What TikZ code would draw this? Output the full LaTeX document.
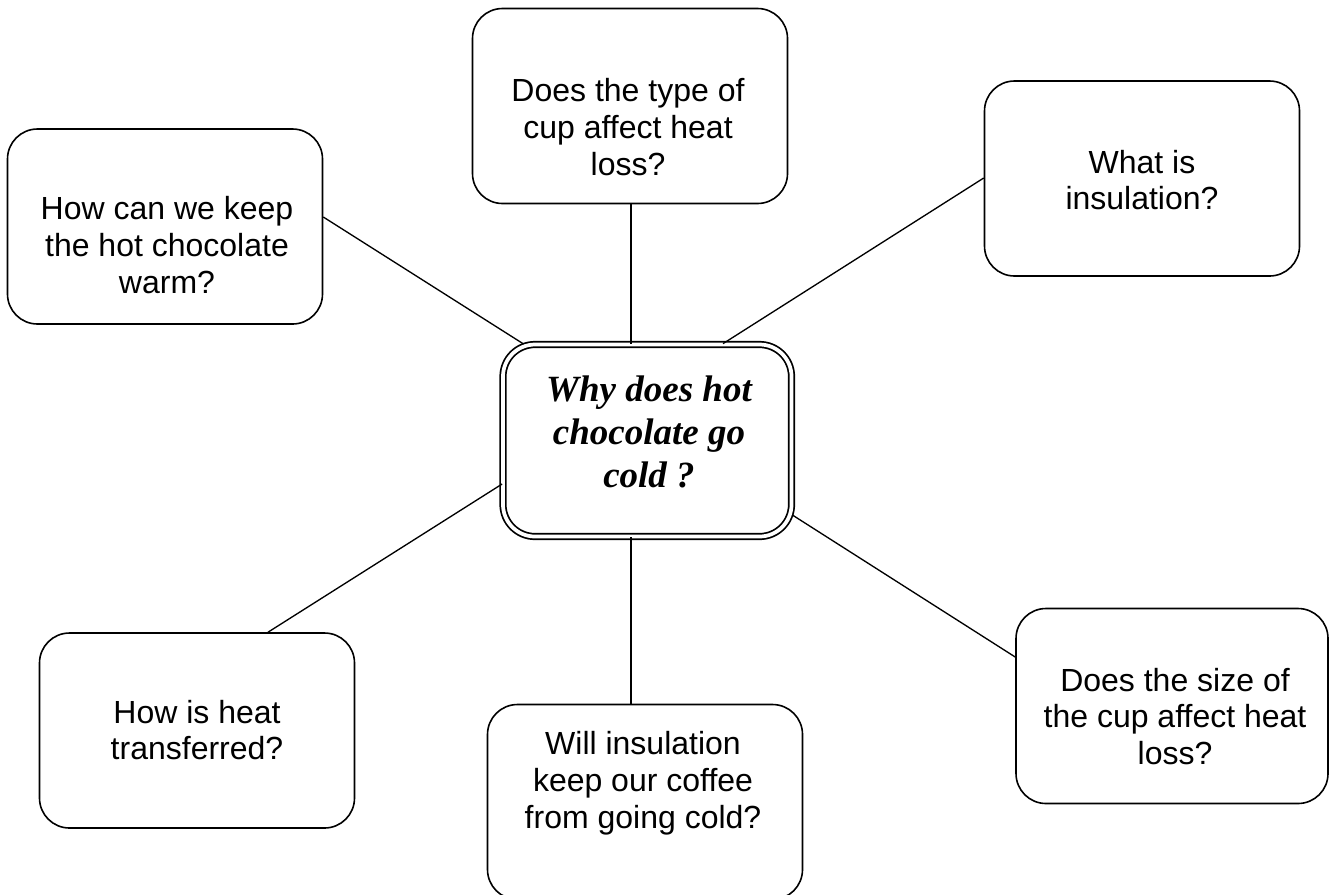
\documentclass[tikz,border=0pt]{standalone}
\usepackage{fontspec}
\setmainfont{Liberation Serif}
\setsansfont{Liberation Sans}
\begin{document}
\begin{tikzpicture}[x=0.75pt,y=-0.75pt,
  qbox/.style={draw=black,line width=1.2pt,rounded corners=22.5pt,
    minimum width=236.25pt,minimum height=146.25pt,inner sep=0pt,fill=white},
  qtext/.style={align=center,inner sep=0pt,
    font=\sffamily\fontsize{24pt}{27.6pt}\selectfont},
  mainbox/.style={draw=black,line width=1.3pt,double=white,double distance=2.8pt,
    rounded corners=24pt,minimum width=216.4pt,minimum height=144pt,inner sep=0pt},
  maintext/.style={align=center,inner sep=0pt,
    font=\rmfamily\bfseries\itshape\fontsize{27.75pt}{32pt}\selectfont},
  link/.style={draw=black,line width=1pt}]
\useasboundingbox (0,0) rectangle (1330,894);
% boxes
\node[qbox] (tc) at (630,106) {};
\node[qbox] (tl) at (165,226.5) {};
\node[qbox] (tr) at (1142,178.5) {};
\node[qbox] (bl) at (197,730.5) {};
\node[qbox] (bc) at (645,802) {};
\node[qbox,minimum width=234pt] (br) at (1172,706) {};
\node[mainbox] (c) at (647.25,440.5) {};
% texts
\node[qtext] (tct) at (628,127) {Does the type of\\cup affect heat\\loss?};
\node[qtext] (tlt) at (167,245) {How can we keep\\the hot chocolate\\warm?};
\node[qtext] (trt) at (1142,180) {What is\\insulation?};
\node[qtext] (blt) at (197,730) {How is heat\\transferred?};
\node[qtext] (bct) at (643,783.5) {Will insulation\\keep our coffee\\from going cold?};
\node[qtext] (brt) at (1175,716.5) {Does the size of\\the cup affect heat\\loss?};
\node[maintext] (ct) at (649,432) {Why does hot\\chocolate go\\cold ?};
% connectors
\draw[link] (tl.east |- 0,217) -- (c.north -| 523,0);
\draw[link] (tc.south -| 631,0) -- (c.north -| 631,0);
\draw[link] (tr.west |- 0,178) -- (c.north -| 723,0);
\draw[link] (bl.north -| 268,0) -- (c.west |- 0,484);
\draw[link] (c.south -| 631,0) -- (bc.north -| 631,0);
\draw[link] (c.east |- 0,515) -- (br.west |- 0,657);
\end{tikzpicture}
\end{document}
